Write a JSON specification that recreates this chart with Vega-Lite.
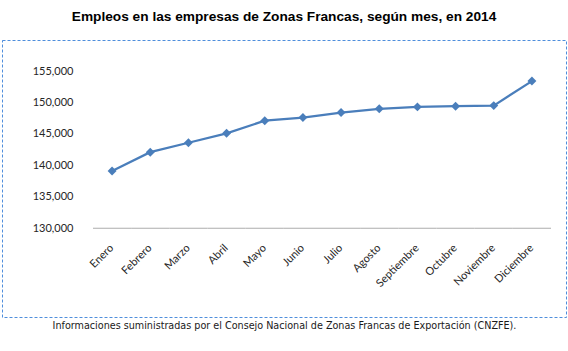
{
  "$schema": "https://vega.github.io/schema/vega-lite/v6.json",
  "width": 564,
  "height": 277,
  "autosize": {"type": "none"},
  "padding": {"left": 2, "top": 40, "right": 2, "bottom": 34},
  "background": "white",
  "title": {
    "text": "Empleos en las empresas de Zonas Francas, según mes, en 2014",
    "font": "Liberation Sans",
    "fontSize": 13.7,
    "fontWeight": "bold",
    "color": "#000000",
    "anchor": "middle",
    "offset": 16
  },
  "config": {
    "view": {"stroke": "#4F8EDC", "strokeDash": [3, 2], "strokeWidth": 1}
  },
  "data": {
    "values": [
      {"mes": "Enero", "empleos": 139100},
      {"mes": "Febrero", "empleos": 142100},
      {"mes": "Marzo", "empleos": 143600},
      {"mes": "Abril", "empleos": 145100},
      {"mes": "Mayo", "empleos": 147100},
      {"mes": "Junio", "empleos": 147600},
      {"mes": "Julio", "empleos": 148400},
      {"mes": "Agosto", "empleos": 149000},
      {"mes": "Septiembre", "empleos": 149300},
      {"mes": "Octubre", "empleos": 149400},
      {"mes": "Noviembre", "empleos": 149500},
      {"mes": "Diciembre", "empleos": 153400}
    ]
  },
  "encoding": {
    "x": {
      "field": "mes",
      "type": "nominal",
      "sort": null,
      "scale": {"type": "band", "paddingInner": 0, "paddingOuter": 0, "range": [91, 549]},
      "axis": {
        "title": "Informaciones suministradas por el Consejo Nacional de Zonas Francas de Exportación (CNZFE).",
        "labelAngle": -45,
        "labelAlign": "right",
        "labelBaseline": "middle",
        "labelFont": "Lato",
        "labelFontSize": 11,
        "labelColor": "#262626",
        "domain": false,
        "ticks": false,
        "tickSize": 0,
        "labelPadding": 18,
        "offset": -89,
        "titleFont": "Liberation Sans Narrow, DejaVu Sans Condensed, Liberation Sans",
        "titleFontSize": 10.7,
        "titleFontWeight": "normal",
        "titleColor": "#1a1a1a",
        "titleAnchor": "middle",
        "titleAlign": "center",
        "titleX": 282,
        "titlePadding": 32
      }
    },
    "y": {
      "field": "empleos",
      "type": "quantitative",
      "scale": {"domain": [115900, 159930], "nice": false, "zero": false},
      "axis": {
        "values": [130000, 135000, 140000, 145000, 150000, 155000],
        "format": ",.0f",
        "formatType": "number",
        "title": null,
        "grid": false,
        "domain": false,
        "ticks": false,
        "tickSize": 0,
        "labelPadding": 20,
        "offset": -91,
        "labelFont": "Lato",
        "labelFontSize": 11,
        "labelColor": "#262626"
      }
    }
  },
  "layer": [
    {
      "mark": {"type": "tick", "bandSize": 1, "thickness": 1, "color": "#ADADAD", "opacity": 1},
      "encoding": {
        "y": {
          "datum": 130000,
          "type": "quantitative",
          "scale": {"domain": [115900, 159930], "nice": false, "zero": false},
          "axis": {
            "values": [130000, 135000, 140000, 145000, 150000, 155000],
            "format": ",.0f",
            "formatType": "number",
            "title": null,
            "grid": false,
            "domain": false,
            "ticks": false,
            "tickSize": 0,
            "labelPadding": 20,
            "offset": -91,
            "labelFont": "Lato",
            "labelFontSize": 11,
            "labelColor": "#262626"
          }
        }
      }
    },
    {
      "mark": {"type": "line", "color": "#4A7EBB", "strokeWidth": 2.25}
    },
    {
      "mark": {"type": "point", "shape": "diamond", "filled": true, "size": 80, "color": "#4A7EBB", "opacity": 1}
    }
  ]
}
